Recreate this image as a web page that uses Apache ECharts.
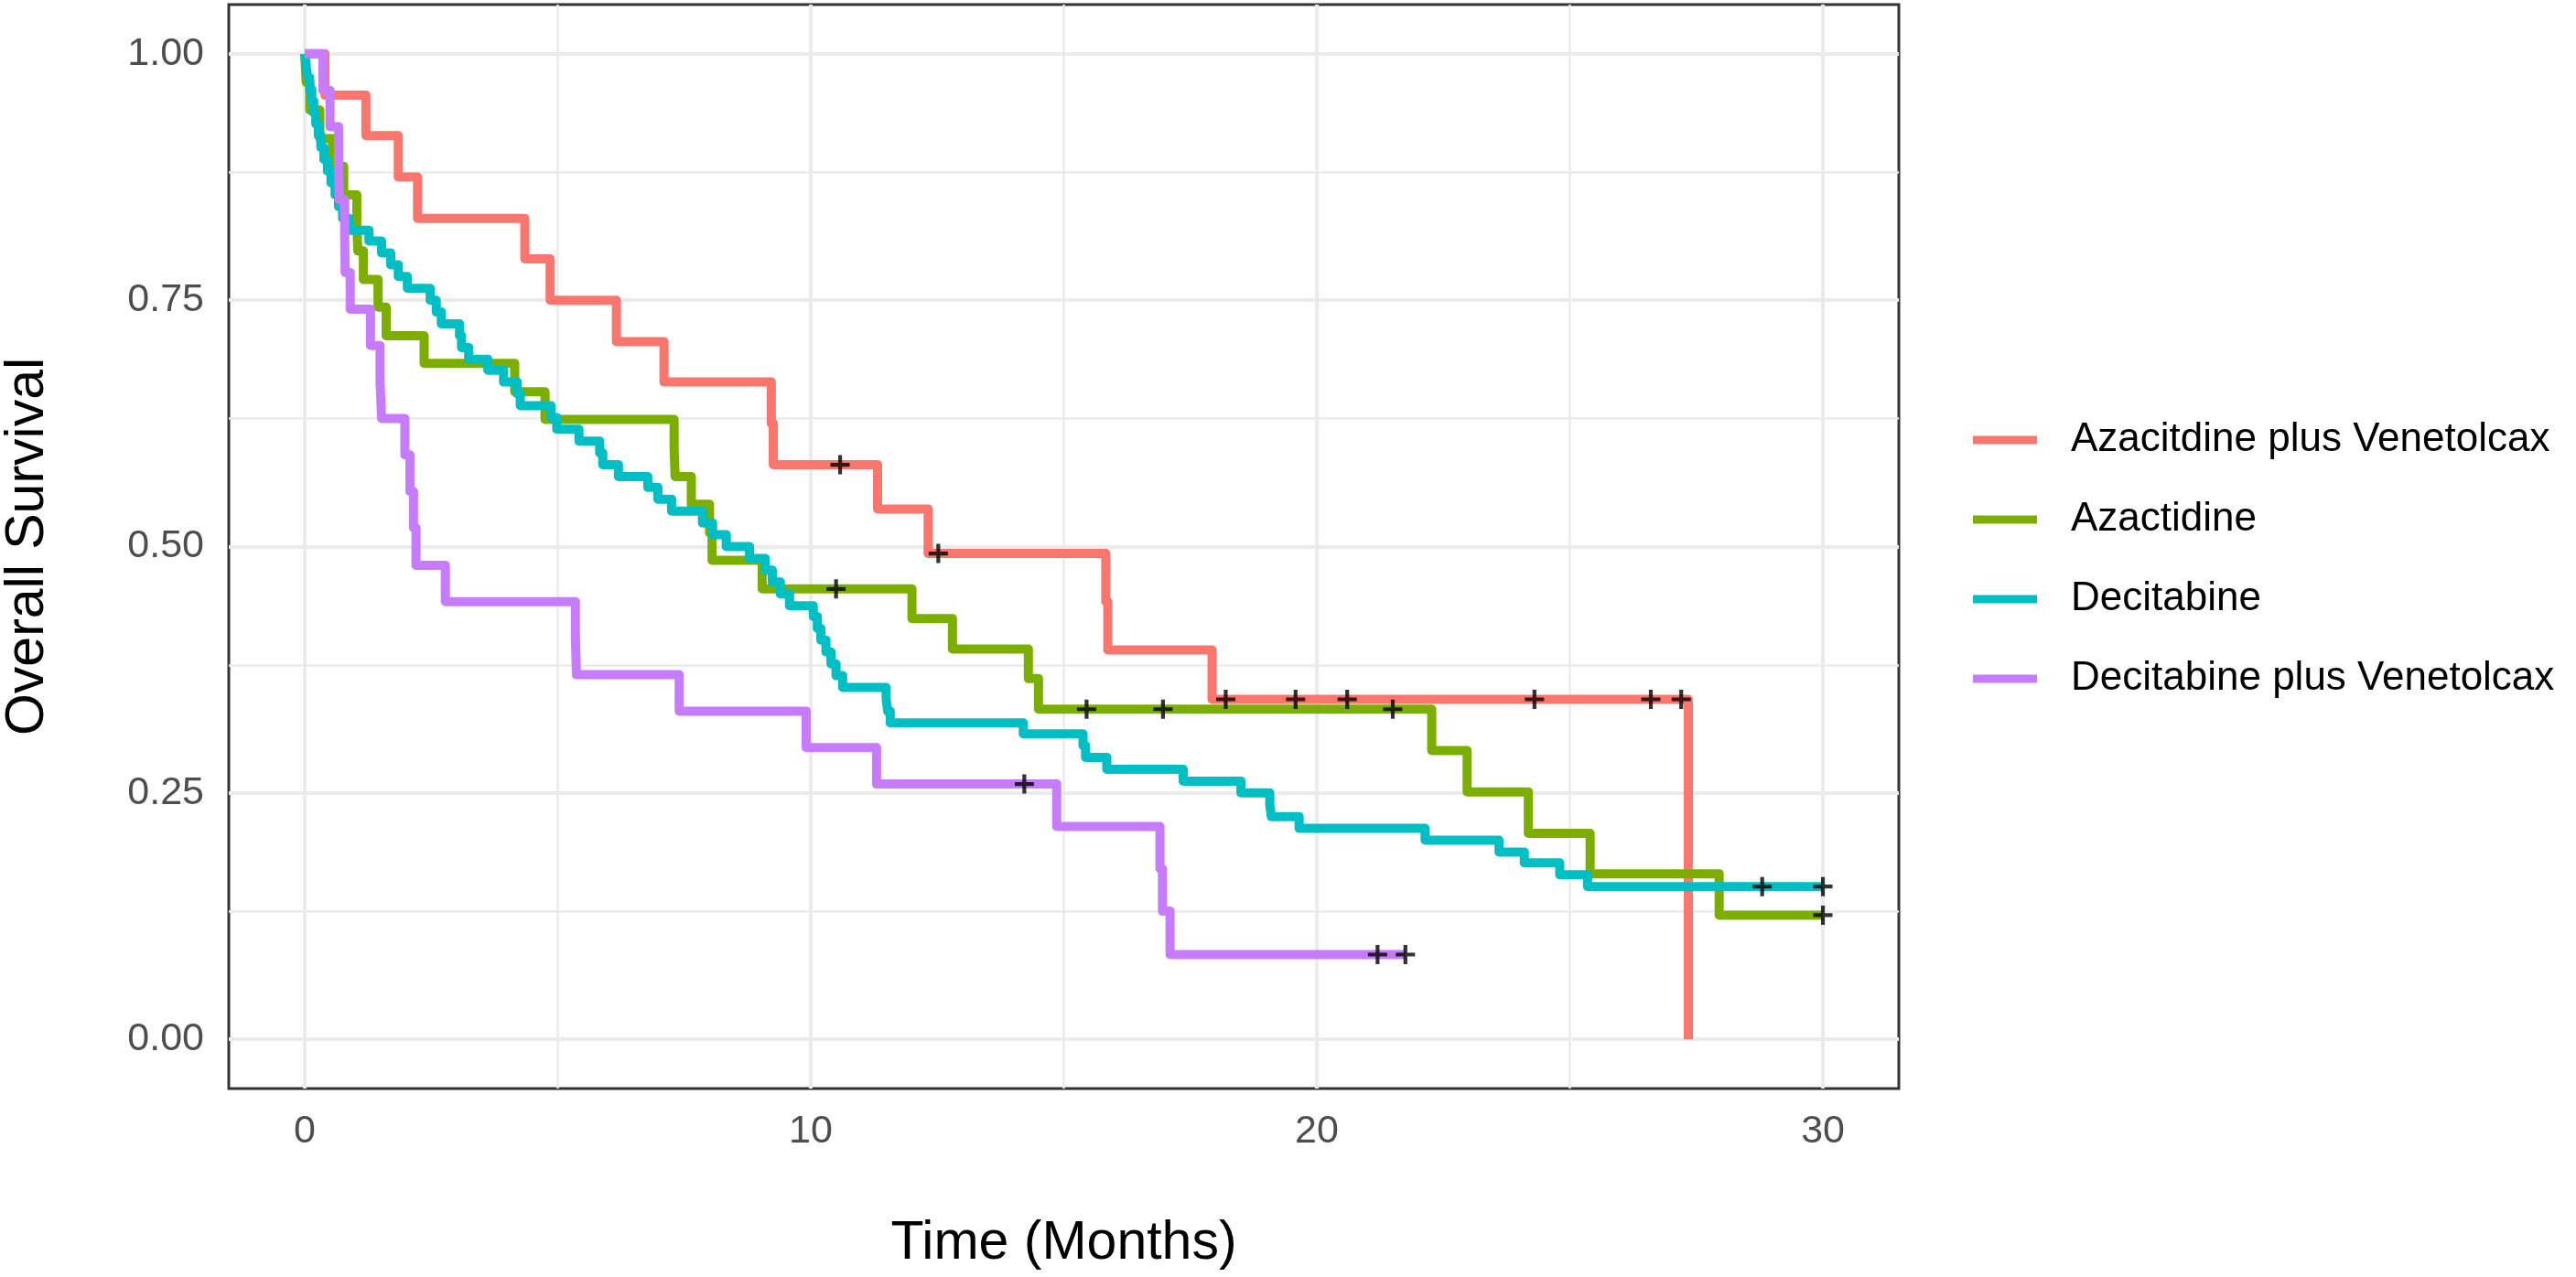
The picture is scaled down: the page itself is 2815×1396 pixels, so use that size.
<!DOCTYPE html>
<html>
<head>
<meta charset="utf-8">
<script src="https://cdn.jsdelivr.net/npm/echarts@6/dist/echarts.min.js"></script>
<style>
  html, body { margin: 0; padding: 0; background: #ffffff; }
  #km-chart { width: 2815px; height: 1396px; }
</style>
</head>
<body>
<div id="km-chart"></div>
<script>
var groupNames = ['Azacitdine plus Venetolcax', 'Azactidine', 'Decitabine', 'Decitabine plus Venetolcax'];
var groupColors = ['#F8766D', '#7CAE00', '#00BFC4', '#C77CFF'];

// Azacitdine plus Venetolcax
var azaVenTimes = [0, 0.4, 1.21, 1.85, 2.23, 4.35, 4.85, 6.16, 7.1, 9.22, 9.26, 11.32, 12.32, 15.83, 15.87, 17.93, 27.34];
var azaVenSurv = [1, 0.958, 0.917, 0.875, 0.833, 0.792, 0.75, 0.708, 0.667, 0.625, 0.583, 0.538, 0.493, 0.444, 0.395, 0.345, 0];
var azaVenCensor = [10.58, 12.52, 18.2, 19.58, 20.6, 24.3, 26.6, 27.2];

// Azactidine
var azaTimes = [0, 0.03, 0.1, 0.3, 0.55, 0.77, 1.03, 1.05, 1.16, 1.45, 1.61, 2.36, 4.15, 4.75, 7.3, 7.32, 7.64, 8.0, 8.05, 9.04,
  12.0, 12.8, 14.3, 14.5, 22.27, 22.97, 24.18, 25.4, 27.95, 30];
var azaSurv = [1, 0.971, 0.943, 0.914, 0.886, 0.857, 0.829, 0.8, 0.771, 0.743, 0.714, 0.686, 0.657, 0.629, 0.6, 0.571, 0.543, 0.514, 0.486, 0.457,
  0.427, 0.396, 0.366, 0.335, 0.293, 0.251, 0.209, 0.168, 0.126, 0.126];
var azaCensor = [10.5, 15.45, 16.96, 21.5, 30];

// Decitabine
var decTimes = [0, 0.03, 0.06, 0.1, 0.14, 0.18, 0.22, 0.27, 0.32, 0.38, 0.45, 0.52, 0.6, 0.67, 0.75, 0.88,
  1.27, 1.52, 1.7, 1.85, 2.03, 2.48, 2.6, 2.7, 3.06, 3.1, 3.24, 3.62, 3.93, 4.2, 4.26,
  4.87, 4.98, 5.42, 5.83, 5.89, 6.2, 6.78, 6.98, 7.25, 7.86, 8.06, 8.33, 8.79, 9.1, 9.24, 9.4, 9.58,
  10.05, 10.13, 10.2, 10.3, 10.4, 10.5, 10.63, 11.49, 11.52, 11.57, 14.2, 15.38, 15.43, 15.85,
  17.36, 18.5, 19.07, 19.1, 19.65, 22.14, 23.6, 24.1, 24.8, 25.35, 30];
var decSurv = [1, 0.988, 0.976, 0.964, 0.952, 0.940, 0.929, 0.917, 0.905, 0.893, 0.881, 0.869, 0.857, 0.845, 0.833, 0.821,
  0.810, 0.798, 0.786, 0.774, 0.762, 0.750, 0.738, 0.726, 0.714, 0.702, 0.690, 0.679, 0.667, 0.655, 0.643,
  0.631, 0.619, 0.607, 0.595, 0.583, 0.571, 0.560, 0.548, 0.536, 0.524, 0.512, 0.500, 0.488, 0.476, 0.464, 0.452, 0.440,
  0.429, 0.417, 0.405, 0.393, 0.381, 0.369, 0.357, 0.345, 0.333, 0.321, 0.310, 0.298, 0.286, 0.274,
  0.262, 0.250, 0.238, 0.226, 0.214, 0.202, 0.190, 0.179, 0.167, 0.155, 0.155];
var decCensor = [28.8, 30];

// Decitabine plus Venetolcax
var decVenTimes = [0, 0.36, 0.5, 0.67, 0.68, 0.79, 0.8, 0.9, 1.3, 1.49, 1.52, 1.98, 2.08, 2.15, 2.2, 2.78,
  5.35, 5.37, 7.4, 9.91, 11.3, 14.86, 16.9, 16.95, 17.1, 21.75];
var decVenSurv = [1, 0.963, 0.926, 0.889, 0.852, 0.815, 0.778, 0.741, 0.704, 0.667, 0.630, 0.593, 0.556, 0.519, 0.481, 0.444,
  0.407, 0.370, 0.333, 0.296, 0.259, 0.216, 0.173, 0.130, 0.086, 0.086];
var decVenCensor = [14.22, 21.2, 21.75];

var xTicks = [0, 10, 20, 30];
var xMinorGrid = [5, 15, 25];
var yTicks = [0, 0.25, 0.5, 0.75, 1];
var yMinorGrid = [0.125, 0.375, 0.625, 0.875];

var groups = [
  [azaVenTimes, azaVenSurv, azaVenCensor],
  [azaTimes, azaSurv, azaCensor],
  [decTimes, decSurv, decCensor],
  [decVenTimes, decVenSurv, decVenCensor]
];

function pairs(times, surv) {
  return times.map(function (t, i) { return [t, surv[i]]; });
}

// censor mark sits on the curve at that time
function censorPoints(times, surv, cens) {
  return cens.map(function (c) {
    var s = surv[0];
    for (var i = 0; i < times.length; i++) {
      if (times[i] <= c) s = surv[i];
    }
    return [c, s];
  });
}

function gridLines(xs, ys, width) {
  return {
    type: 'line',
    data: [],
    z: 1,
    silent: true,
    markLine: {
      z: 1,
      silent: true,
      symbol: ['none', 'none'],
      label: { show: false },
      animation: false,
      lineStyle: { color: '#EBEBEB', width: width, type: 'solid' },
      emphasis: { disabled: true },
      data: xs.map(function (v) { return { xAxis: v }; })
        .concat(ys.map(function (v) { return { yAxis: v }; }))
    }
  };
}

var plusPath = 'path://M8,0H12V20H8ZM0,8H20V12H0Z';
var font = 'Liberation Sans, Arial, sans-serif';

var chartDom = document.getElementById('km-chart');
var myChart = echarts.init(chartDom, null, { renderer: 'canvas' });

var series = [gridLines(xMinorGrid, yMinorGrid, 2.5), gridLines(xTicks, yTicks, 4)];

groups.forEach(function (g, i) {
  series.push({
    name: groupNames[i],
    type: 'line',
    step: 'end',
    data: pairs(g[0], g[1]),
    showSymbol: false,
    symbol: 'none',
    color: groupColors[i],
    lineStyle: { width: 10, color: groupColors[i], join: 'round' },
    z: 6 + i,
    silent: true,
    animation: false
  });
});

groups.forEach(function (g, i) {
  series.push({
    type: 'scatter',
    data: censorPoints(g[0], g[1], g[2]),
    symbol: plusPath,
    symbolSize: 21,
    itemStyle: { color: '#000000' },
    z: 12,
    silent: true,
    animation: false
  });
});

var option = {
  backgroundColor: '#ffffff',
  animation: false,
  grid: {
    left: 250,
    right: 740,
    top: 5,
    bottom: 206,
    containLabel: false,
    outerBoundsMode: 'none',
    show: true,
    backgroundColor: '#ffffff',
    borderColor: '#333333',
    borderWidth: 3
  },
  legend: {
    orient: 'vertical',
    left: 2151,
    top: 451,
    itemWidth: 70,
    itemHeight: 9,
    itemGap: 37,
    selectedMode: false,
    textStyle: {
      fontFamily: font,
      fontSize: 44,
      color: '#000000',
      lineHeight: 50,
      padding: [0, 0, 0, 32]
    },
    data: groupNames.map(function (n) { return { name: n, icon: 'rect' }; })
  },
  xAxis: {
    type: 'value',
    min: -1.5,
    max: 31.5,
    name: 'Time (Months)',
    nameLocation: 'middle',
    nameGap: 140,
    nameTextStyle: { fontFamily: font, fontSize: 59, color: '#000000' },
    axisLine: { show: false },
    splitLine: { show: false },
    axisTick: {
      show: true,
      customValues: xTicks,
      length: 14,
      lineStyle: { color: '#333333', width: 3 }
    },
    axisLabel: {
      customValues: xTicks,
      margin: 26,
      fontFamily: font,
      fontSize: 43,
      color: '#4D4D4D'
    }
  },
  yAxis: {
    type: 'value',
    min: -0.05,
    max: 1.05,
    name: 'Overall Survival',
    nameLocation: 'middle',
    nameGap: 190,
    nameTextStyle: { fontFamily: font, fontSize: 59, color: '#000000' },
    axisLine: { show: false },
    splitLine: { show: false },
    axisTick: {
      show: true,
      customValues: yTicks,
      length: 14,
      lineStyle: { color: '#333333', width: 3 }
    },
    axisLabel: {
      customValues: yTicks,
      margin: 27,
      fontFamily: font,
      fontSize: 43,
      color: '#4D4D4D',
      formatter: function (v) { return v.toFixed(2); }
    }
  },
  series: series
};

option && myChart.setOption(option);
</script>
</body>
</html>
